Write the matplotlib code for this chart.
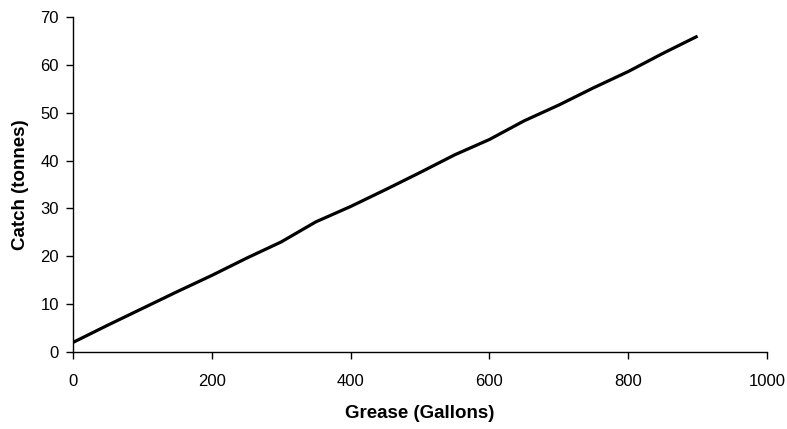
import matplotlib
matplotlib.use("Agg")
import matplotlib.pyplot as plt

grease = [0, 50, 100, 150, 200, 250, 300, 350, 400, 450, 500, 550, 600, 650, 700, 750, 800, 850, 900]
catch = [2.0, 5.6, 9.1, 12.6, 16.0, 19.6, 23.0, 27.2, 30.4, 33.9, 37.5, 41.2, 44.4, 48.3, 51.6, 55.2, 58.6, 62.4, 66.0]

xticks = [0, 200, 400, 600, 800, 1000]
yticks = [0, 10, 20, 30, 40, 50, 60, 70]

plt.rcParams['font.family'] = ['Liberation Sans', 'DejaVu Sans']

fig = plt.figure(figsize=(7.87, 4.29), dpi=100)
ax = fig.add_axes([73/787, 77/429, 694/787, 335/429])
ax.plot(grease, catch, color='black', linewidth=2.3, solid_capstyle='butt')
ax.set_xlim(0, 1000)
ax.set_ylim(0, 70)
ax.set_xticks(xticks)
ax.set_yticks(yticks)
ax.spines['top'].set_visible(False)
ax.spines['right'].set_visible(False)
for s in ['left', 'bottom']:
    ax.spines[s].set_linewidth(1.0)
ax.tick_params(direction='out', length=5, width=1.0, labelsize=12)
ax.tick_params(axis='x', pad=11)
ax.tick_params(axis='y', pad=5)
ax.set_xlabel('Grease (Gallons)', fontsize=13.5, fontweight='bold', va='center')
ax.set_ylabel('Catch (tonnes)', fontsize=13.5, fontweight='bold', va='center')
ax.xaxis.set_label_coords(0.5, (352 - 413) / 335)
ax.yaxis.set_label_coords((20 - 73) / 694, 0.5)
fig.savefig('out.png', dpi=100)
